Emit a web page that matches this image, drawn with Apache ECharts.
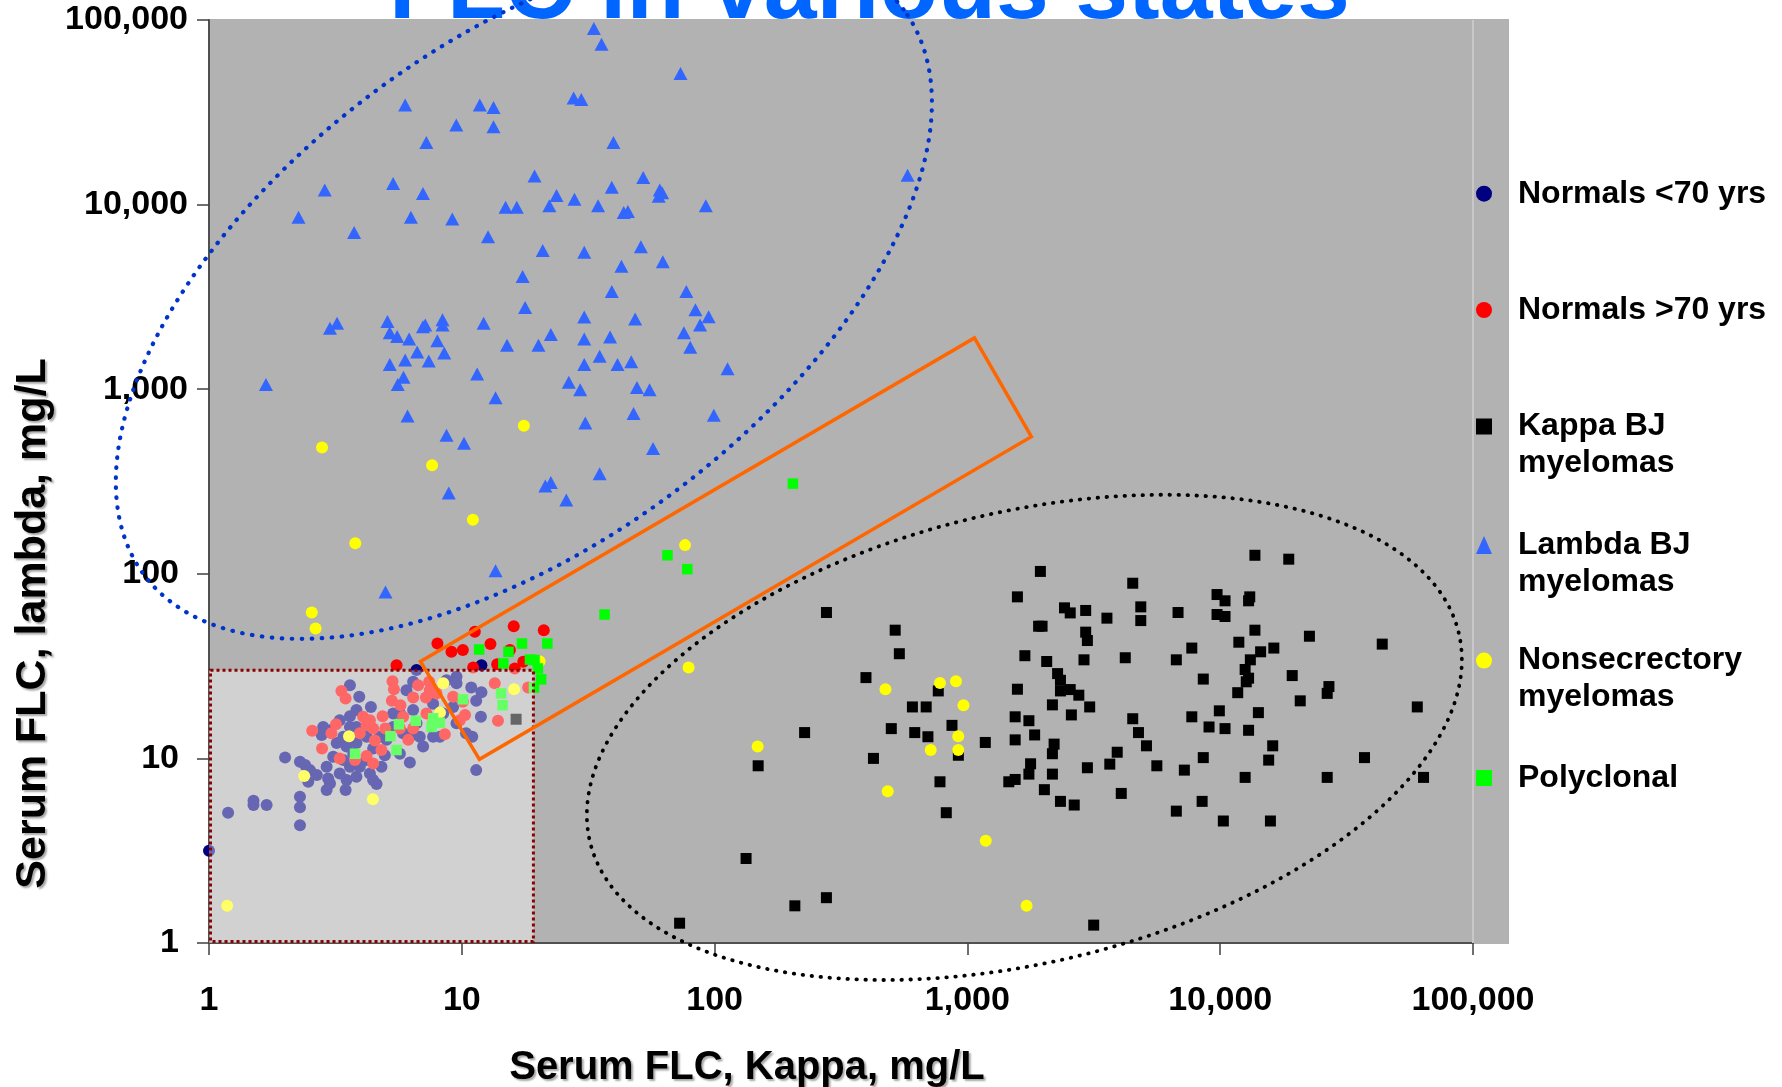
<!DOCTYPE html>
<html>
<head>
<meta charset="utf-8">
<script src="https://cdn.jsdelivr.net/npm/echarts@6/dist/echarts.min.js"></script>
<style>
html,body{margin:0;padding:0;background:#fff;}
#chart{width:1782px;height:1087px;}
</style>
</head>
<body>
<div id="chart"></div>
<script>
// ---------- DATA (Serum FLC kappa, lambda in mg/L) ----------
const titleText = 'FLC in various states';
const xAxisTitle = 'Serum FLC, Kappa, mg/L';
const yAxisTitle = 'Serum FLC, lambda, mg/L';
const seriesNames = ['Normals <70 yrs','Normals >70 yrs','Kappa BJ myelomas','Lambda BJ myelomas','Nonsecrectory myelomas','Polyclonal'];
const legendLabels = ['Normals <70 yrs','Normals >70 yrs','\nKappa BJ\nmyelomas','\nLambda BJ\nmyelomas','\nNonsecrectory\nmyelomas','Polyclonal'];
const axisMin = 1, axisMax = 100000;

const normalsUnder70 = [
[1.0,3.16],[6.62,30.1],[11.96,32.0],
[3.61,24.9],[3.93,21.6],[4.37,19.0],[2.83,14.8],[2.79,13.4],[3.01,14.2],[3.29,16.1],[3.61,16.9],[3.83,18.3],[3.61,14.8],
[3.40,13.1],[3.20,12.1],[3.50,11.6],[3.83,12.1],[3.10,10.2],[2.92,9.01],[3.40,9.79],[3.72,10.6],[3.61,9.01],[3.95,9.01],
[4.20,9.79],[3.29,8.29],[3.50,7.63],[3.83,7.95],[4.33,8.29],[4.46,7.63],[4.60,7.26],[2.96,7.79],[3.01,7.32],[2.92,6.74],
[3.47,6.74],[2.29,9.59],[2.40,9.20],[2.51,8.64],[2.67,8.12],[2.00,10.1],[2.29,6.20],[2.29,5.43],[2.29,4.35],[1.50,5.90],
[1.50,5.59],[1.69,5.59],[1.19,5.08],[2.47,7.47],[4.96,10.4],[4.74,13.1],[5.35,14.8],[5.69,17.5],[5.86,13.7],[6.23,13.1],
[6.62,15.5],[6.82,13.1],[7.03,11.6],[7.70,13.1],[8.19,13.1],[8.44,17.5],[6.42,26.0],[8.70,26.5],[9.53,27.7],[9.53,25.5],
[10.9,24.2],[11.96,22.8],[11.4,20.5],[11.9,16.8],[11.0,13.1],[10.4,13.7],[9.53,15.5],[9.24,19.0],[11.4,8.64],[6.23,9.51],
[5.35,17.5],[5.04,12.6],[4.81,9.01],[4.20,13.1],[3.83,14.8],[4.46,11.3],[5.69,10.6],[6.42,18.3],[7.70,19.8],[6.04,23.4]
];
const normalsOver70 = [
[5.52,32.0],[8.01,41.9],[9.10,37.8],[10.1,38.6],[11.26,48.5],[12.98,41.6],[16.05,52.0],[21.1,49.5],[15.5,38.6],[11.09,31.1],
[13.8,32.4],[17.5,33.4],[16.2,30.7],
[3.34,23.2],[3.47,21.1],[5.32,26.2],[5.39,23.7],[6.72,24.9],[7.43,26.0],[7.47,23.4],[5.29,20.5],[5.72,19.4],[6.42,21.4],
[7.21,21.4],[7.94,22.5],[9.24,21.6],[10.1,20.3],[13.5,25.5],[18.3,24.2],[13.9,16.0],[10.3,17.2],[9.82,16.1],[4.86,16.9],
[4.07,16.8],[4.20,15.1],[4.46,14.5],[4.98,14.5],[5.86,16.8],[6.42,14.5],[7.25,17.5],[7.70,15.5],[8.57,13.5],[6.14,12.6],
[2.56,14.1],[3.05,13.7],[3.18,15.3],[2.80,11.3],[3.95,13.7],[4.53,12.5],[4.81,11.1],[3.29,10.0],[3.78,9.79],[4.20,10.3],
[4.46,9.39],[4.33,16.1],[5.69,14.5]
];
const kappaBJ = [
[1944,103],[13720,126],[18670,120],[4508,88.9],[1577,75.0],[9716,77.2],[10450,71.4],[13090,75.0],[12950,71.4],[2421,65.4],
[2551,61.4],[2937,63.3],[3564,57.5],[4851,66.2],[4851,55.8],[6812,61.7],[9716,60.2],[10450,58.7],[277,61.7],[518,49.5],
[1913,52.0],[1974,52.0],[2937,48.3],[2983,43.5],[13720,49.5],[22540,45.9],[11850,42.6],[43750,41.6],[7721,39.6],[14450,37.8],
[16300,39.6],[538,36.9],[1688,36.0],[2059,33.5],[2892,34.2],[4212,35.1],[6706,34.2],[13160,34.2],[397,27.4],[2274,28.8],
[2334,26.5],[12550,30.3],[12950,27.2],[12680,26.0],[8572,26.9],[19270,28.1],[767,23.2],[1577,23.7],[2334,23.2],[2551,23.6],
[2759,22.0],[11730,22.7],[26920,24.5],[26500,22.5],[606,19.0],[687,19.0],[2169,19.5],[3046,19.0],[20730,20.5],[60200,19.0],
[869,15.1],[1545,16.8],[1751,16.0],[2578,17.2],[4508,16.4],[7721,16.8],[9922,18.1],[14160,17.7],[500,14.5],[619,13.8],
[698,13.1],[1845,13.4],[4750,13.8],[9033,14.8],[10450,14.5],[12950,14.2],[227,13.8],[1177,12.2],[1545,12.6],[2203,11.95],
[2169,10.6],[921,10.4],[3914,10.8],[5109,11.7],[16130,11.7],[425,10.0],[148.7,9.12],[1778,9.35],[3658,9.31],[5615,9.12],
[8572,10.1],[15550,9.79],[37220,10.1],[2983,8.90],[7215,8.64],[779,7.47],[1458,7.47],[1545,7.69],[1751,8.22],[2169,8.22],
[12550,7.89],[26500,7.89],[63730,7.89],[2016,6.77],[4061,6.46],[825,5.08],[2334,5.85],[2646,5.59],[8482,5.85],[6706,5.18],
[10290,4.58],[15800,4.58],[133.2,2.87],[207.7,1.59],[276.9,1.76],[72.7,1.28],[3159,1.25],[16.4,16.3]
];
const lambdaBJ = [
[33.3,89900],[35.7,73800],[73.3,51300],[5.97,34600],[11.78,34600],[13.35,33600],[13.35,26400],[9.51,27000],[7.24,21700],
[27.7,37800],[29.7,37100],[39.8,21700],[2.87,12000],[5.35,13000],[7.02,11500],[2.26,8550],[3.75,7050],[6.29,8550],
[9.17,8360],[12.7,6690],[19.4,14300],[14.9,9660],[16.5,9660],[23.7,11200],[22.2,9870],[27.9,10700],[34.6,9870],
[39.2,12400],[43.7,9050],[45.4,9170],[52.2,14000],[60.7,12000],[62.0,11600],[60.1,11100],[92.3,9870],[20.9,5640],
[30.5,5520],[51.1,5920],[42.8,4630],[62.4,4910],[17.4,4080],[39.2,3380],[77.3,3380],[17.8,2770],[84.0,2690],[87.6,2230],
[94.7,2470],[75.6,2020],[80.1,1690],[112.5,1290],[1.68,1060],[3.01,2140],[3.21,2280],[5.08,2330],[5.19,2020],[5.55,1930],
[6.19,1870],[7.02,2180],[7.17,2230],[8.39,2380],[8.39,2230],[8.0,1830],[8.52,1570],[12.2,2280],[6.66,1590],[5.97,1440],
[7.40,1420],[5.19,1360],[5.88,1160],[5.58,1060],[15.1,1730],[20.1,1730],[22.5,1980],[30.5,2460],[30.5,1870],[38.6,1920],
[48.5,2400],[35.1,1510],[30.5,1360],[41.3,1360],[46.8,1410],[11.5,1210],[26.5,1090],[29.4,994],[49.3,1020],[55.3,994],
[13.6,899],[6.10,716],[30.8,656],[47.8,739],[99.3,723],[8.70,563],[10.2,509],[57.1,477],[35.1,348],[21.4,299],[22.5,312],
[8.88,274],[25.9,251],[4.99,79.8],[13.6,104],[580,14400]
];
const nonsecretory = [
[2.80,483],[17.6,634],[7.63,387],[11.06,196],[3.79,146.5],[76.4,143],[2.55,61.7],[2.64,50.6],[20.3,33.6],[78.9,31.1],
[8.45,25.5],[16.1,23.7],[8.20,17.7],[3.58,13.2],[2.38,8.02],[4.45,6.0],[1.18,1.59],[148,11.6],[474,23.7],[779,25.6],
[901,26.2],[965,19.4],[920,13.2],[716,11.1],[920,11.1],[484,6.63],[1182,3.58],[1714,1.59]
];
const polyclonal = [
[11.71,38.9],[15.3,37.8],[17.3,41.9],[21.8,41.9],[14.6,32.7],[18.6,34.3],[19.4,34.1],[20.0,30.7],[20.6,26.8],[19.3,24.2],
[10.1,20.9],[14.3,22.5],[14.5,19.4],[5.64,15.3],[6.58,16.0],[7.70,16.5],[8.19,15.6],[7.59,14.8],[5.22,13.2],[5.52,11.1],
[3.78,10.6],[65.1,126],[78.0,106],[36.7,60.2],[204,308]
];
// Annotation shapes in data coordinates (kappa, lambda)
const normalRangeKappa = [1, 19.2];
const normalRangeLambda = [1, 30];
const ratioBandCorners = [[6.86,33.5],[1066,1897],[1791,553],[11.74,9.89]];
const lambdaEllipse = [[17.6,3350],[559,114000],[4.51,40800]];   // centre, major-axis end, minor-axis end
const kappaEllipse  = [[1680,13.0],[87800,47.9],[1042,199.5]];

// ---------- CHART ----------
const FONT = '"Liberation Sans", Arial, Helvetica, sans-serif';
const fmt = v => String(Math.round(v)).replace(/\B(?=(\d{3})+(?!\d))/g, ',');
const chart = echarts.init(document.getElementById('chart'), null, {renderer:'canvas'});

function ellipseItem(def){ return [def[0][0],def[0][1],def[1][0],def[1][1],def[2][0],def[2][1]]; }
function ellipseRender(color, width, dash){
  return function(params, api){
    const c = api.coord([api.value(0), api.value(1)]);
    const m = api.coord([api.value(2), api.value(3)]);
    const n = api.coord([api.value(4), api.value(5)]);
    const ux=m[0]-c[0], uy=m[1]-c[1], vx=n[0]-c[0], vy=n[1]-c[1];
    const pts=[];
    for(let k=0;k<360;k++){const t=k*Math.PI/180; pts.push([c[0]+ux*Math.cos(t)+vx*Math.sin(t), c[1]+uy*Math.cos(t)+vy*Math.sin(t)]);}
    return {type:'polygon', shape:{points:pts}, style:{fill:null, stroke:color, lineWidth:width, lineDash:dash, lineCap:'round'}};
  };
}

const labelStyle = {fontFamily:FONT, fontWeight:'bold', fontSize:34, color:'#000'};
const nameShadow = {textShadowColor:'rgba(0,0,0,0.35)', textShadowBlur:2, textShadowOffsetX:2, textShadowOffsetY:2};

const legendCenters = [193.7, 310, 426.5, 545, 660.6, 778];
const legendLines = legendLabels.map(s => s.split('\n').length);
const LH = 37;
const legendIcons = ['circle','circle','rect','triangle','circle','rect'];
const legends = seriesNames.map((nm,i)=>({
  data:[{name:nm, icon:legendIcons[i]}],
  orient:'vertical', left:1476, top: legendCenters[i] - legendLines[i]*LH/2,
  padding:0, itemWidth:16, itemHeight: legendIcons[i]==='triangle'?18:16,
  selectedMode:false,
  formatter: () => legendLabels[i],
  textStyle:{fontFamily:FONT, fontWeight:'bold', fontSize:32, color:'#000', lineHeight:LH, padding:[0,0,0,21]}
}));

const option = {
  animation:false,
  backgroundColor:'#ffffff',
  title:{text:titleText, left:389, top:-56, padding:0, z:1,
    textStyle:{fontFamily:FONT, fontWeight:'bold', fontSize:95, lineHeight:95, color:'#0066ff'}},
  graphic:[
    {type:'rect', z:-10, shape:{x:208, y:19, width:1301, height:925}, style:{fill:'#b2b2b2'}, silent:true}
  ],
  legend: legends,
  grid:{left:209, right:309, top:20, bottom:144, containLabel:false, outerBoundsMode:'none'},
  xAxis:{type:'log', logBase:10, min:axisMin, max:axisMax,
    axisLine:{lineStyle:{color:'#505050', width:2}},
    axisTick:{length:12, lineStyle:{color:'#404040', width:1.5}},
    splitLine:{show:false}, minorTick:{show:false},
    axisLabel:Object.assign({margin:37.5, lineHeight:40, formatter:fmt}, labelStyle),
    name:xAxisTitle, nameLocation:'middle', nameGap:105,
    nameTextStyle:Object.assign({fontFamily:FONT, fontWeight:'bold', fontSize:40, color:'#000', padding:[0,188,0,0]}, nameShadow)
  },
  yAxis:{type:'log', logBase:10, min:axisMin, max:axisMax,
    axisLine:{lineStyle:{color:'#505050', width:2}},
    axisTick:{length:12, lineStyle:{color:'#404040', width:1.5}},
    splitLine:{show:false}, minorTick:{show:false},
    axisLabel:Object.assign({margin:21, formatter: v => (v < 1000 ? '{s|' + fmt(v) + '}' : fmt(v)),
      rich:{s:{fontFamily:FONT, fontWeight:'bold', fontSize:34, color:'#000', padding:[0,9,0,0]}}}, labelStyle),
    name:yAxisTitle, nameLocation:'middle', nameGap:139,
    nameTextStyle:Object.assign({fontFamily:FONT, fontWeight:'bold', fontSize:43, color:'#000', padding:[0,284,0,0]}, nameShadow)
  },
  series:[
    {name:seriesNames[0], type:'scatter', data:normalsUnder70, symbol:'circle', symbolSize:12, itemStyle:{color:'#000080', opacity:1}, z:2},
    {name:seriesNames[1], type:'scatter', data:normalsOver70, symbol:'circle', symbolSize:12, itemStyle:{color:'#ff0000', opacity:1}, z:2},
    {name:seriesNames[2], type:'scatter', data:kappaBJ, symbol:'rect', symbolSize:11, itemStyle:{color:'#000000', opacity:1}, z:2},
    {name:seriesNames[3], type:'scatter', data:lambdaBJ, symbol:'triangle', symbolSize:[14,13], itemStyle:{color:'#3366ff', opacity:1}, z:2},
    {name:seriesNames[4], type:'scatter', data:nonsecretory, symbol:'circle', symbolSize:12, itemStyle:{color:'#ffff00', opacity:1}, z:2},
    {name:seriesNames[5], type:'scatter', data:polyclonal, symbol:'rect', symbolSize:10.5, itemStyle:{color:'#00ff00', opacity:1}, z:2},
    {type:'custom', name:'normal range', silent:true, z:5,
      data:[[normalRangeKappa[0], normalRangeLambda[0], normalRangeKappa[1], normalRangeLambda[1]]],
      encode:{x:0, y:1},
      renderItem:function(params, api){
        const a = api.coord([api.value(0), api.value(1)]);
        const b = api.coord([api.value(2), api.value(3)]);
        return {type:'group', children:[
          {type:'rect', shape:{x:a[0], y:b[1], width:b[0]-a[0], height:a[1]-b[1]}, style:{fill:'rgba(255,255,255,0.4)'}},
          {type:'rect', shape:{x:a[0]+1.5, y:b[1], width:b[0]-a[0]-1.5, height:a[1]-b[1]-1.5}, style:{fill:null, stroke:'#8b0000', lineWidth:3, lineDash:[3,3]}}
        ]};
      }
    },
    {type:'custom', name:'ratio band', silent:true, z:6,
      data:[ratioBandCorners.flat()],
      encode:{x:0, y:1},
      renderItem:function(params, api){
        const pts=[];
        for(let k=0;k<4;k++) pts.push(api.coord([api.value(2*k), api.value(2*k+1)]));
        return {type:'polygon', shape:{points:pts}, style:{fill:null, stroke:'#ff6600', lineWidth:3.5}};
      }
    },
    {type:'custom', name:'lambda ellipse', silent:true, z:6, clip:false,
      data:[ellipseItem(lambdaEllipse)], encode:{x:0, y:1},
      renderItem:ellipseRender('#0033cc', 4.2, [0.5, 9.5])
    },
    {type:'custom', name:'kappa ellipse', silent:true, z:6, clip:false,
      data:[ellipseItem(kappaEllipse)], encode:{x:0, y:1},
      renderItem:ellipseRender('#000000', 3.8, [0.5, 8.5])
    },
    {type:'line', name:'edge', silent:true, z:1, data:[], markLine:{silent:true, symbol:'none', label:{show:false},
      lineStyle:{color:'#c8c8c8', width:2, type:'solid'}, data:[{xAxis:axisMax}]}}
  ]
};
chart.setOption(option);
</script>
</body>
</html>
